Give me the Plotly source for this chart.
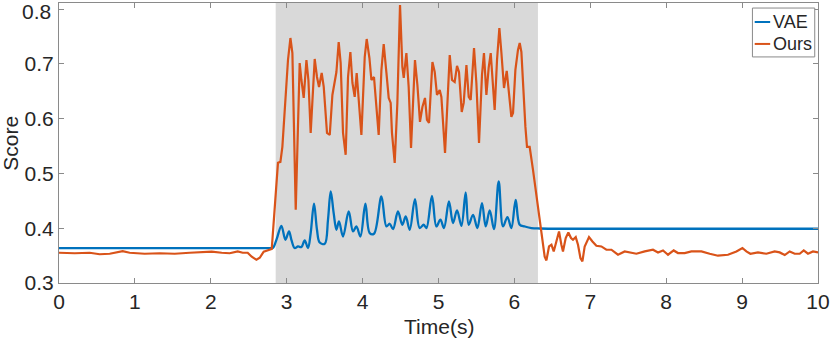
import plotly.graph_objects as go

# ---- data ----
shade_start = 2.855
shade_end = 6.31

vae_t = [0.0, 1.0, 2.0, 2.802, 2.820, 2.872, 2.930, 2.983, 3.030, 3.062, 3.105, 3.149, 3.194,
         3.237, 3.281, 3.316, 3.360, 3.399, 3.435, 3.501, 3.544, 3.580, 3.619, 3.655, 3.689,
         3.742, 3.817, 3.874, 3.918, 3.971, 4.037, 4.094, 4.150, 4.248, 4.314, 4.357, 4.401,
         4.466, 4.524, 4.568, 4.621, 4.690, 4.752, 4.805, 4.841, 4.914, 4.972, 5.025, 5.072,
         5.138, 5.191, 5.244, 5.302, 5.358, 5.398, 5.455, 5.512, 5.573, 5.622, 5.675, 5.731,
         5.793, 5.850, 5.908, 5.960, 6.017, 6.070, 6.136, 6.224, 6.333, 7.0, 8.0, 9.0, 10.0]
vae_v = [0.3638, 0.3638, 0.3638, 0.3638, 0.3640, 0.3820, 0.4044, 0.3789, 0.3941, 0.3789, 0.3638,
         0.3667, 0.3656, 0.3777, 0.3638, 0.3911, 0.4446, 0.3972, 0.3740, 0.3716, 0.4154, 0.4670,
         0.4276, 0.3972, 0.4123, 0.3849, 0.4305, 0.3941, 0.4032, 0.3849, 0.4446, 0.3911, 0.3899,
         0.4579, 0.4032, 0.4081, 0.3984, 0.4305, 0.4063, 0.4214, 0.3972, 0.4531, 0.4003, 0.4063,
         0.4003, 0.4591, 0.4032, 0.4154, 0.4003, 0.4487, 0.4094, 0.4323, 0.4044, 0.4652, 0.4063,
         0.4245, 0.4003, 0.4458, 0.4032, 0.4323, 0.3984, 0.4852, 0.4032, 0.4203, 0.4003, 0.4518,
         0.4063, 0.4032, 0.4003, 0.3995, 0.3990, 0.3990, 0.3990, 0.3990]

ours_t = [0.0, 0.207, 0.404, 0.536, 0.668, 0.839, 0.931, 1.129, 1.327, 1.524, 1.722, 1.920,
          2.012, 2.144, 2.249, 2.355, 2.420, 2.486, 2.539, 2.601, 2.645, 2.697, 2.750, 2.803,
          2.885, 2.917, 2.943, 2.974, 3.017, 3.049, 3.075, 3.119, 3.171, 3.194, 3.224, 3.260,
          3.286, 3.316, 3.369, 3.399, 3.426, 3.461, 3.488, 3.531, 3.567, 3.602, 3.655, 3.685,
          3.711, 3.742, 3.777, 3.808, 3.839, 3.866, 3.896, 3.922, 3.948, 3.984, 4.028, 4.054,
          4.090, 4.116, 4.150, 4.182, 4.212, 4.248, 4.278, 4.314, 4.344, 4.370, 4.387, 4.423,
          4.458, 4.493, 4.524, 4.542, 4.577, 4.607, 4.638, 4.690, 4.722, 4.756, 4.788, 4.822,
          4.848, 4.875, 4.920, 4.950, 4.980, 5.016, 5.038, 5.086, 5.148, 5.178, 5.213, 5.244,
          5.270, 5.306, 5.332, 5.368, 5.398, 5.424, 5.468, 5.499, 5.534, 5.573, 5.599, 5.631,
          5.661, 5.688, 5.714, 5.740, 5.771, 5.802, 5.829, 5.863, 5.899, 5.925, 5.960, 5.982,
          6.013, 6.047, 6.070, 6.092, 6.113, 6.145, 6.166, 6.201, 6.245, 6.277, 6.320, 6.364,
          6.399, 6.422, 6.456, 6.488, 6.518, 6.553, 6.588, 6.619, 6.640, 6.676, 6.711, 6.746,
          6.772, 6.808, 6.838, 6.870, 6.896, 6.926, 6.983, 7.028, 7.080, 7.146, 7.212, 7.278,
          7.365, 7.453, 7.519, 7.607, 7.717, 7.826, 7.892, 7.958, 8.024, 8.099, 8.155, 8.244,
          8.332, 8.464, 8.573, 8.682, 8.814, 8.925, 9.004, 9.056, 9.109, 9.209, 9.320, 9.429,
          9.495, 9.561, 9.627, 9.693, 9.759, 9.812, 9.868, 9.934, 10.0]
ours_v = [0.3552, 0.3543, 0.3552, 0.3525, 0.3534, 0.3580, 0.3552, 0.3534, 0.3543, 0.3534,
          0.3552, 0.3561, 0.3571, 0.3552, 0.3543, 0.3576, 0.3552, 0.3552, 0.3479, 0.3425,
          0.3461, 0.3571, 0.3594, 0.3620, 0.5193, 0.5211, 0.5485, 0.6104, 0.7070, 0.7471,
          0.7197, 0.4336, 0.7015, 0.6705, 0.6377, 0.7070, 0.6705, 0.5740, 0.7088, 0.6760,
          0.6578, 0.6833, 0.6578, 0.5740, 0.5703, 0.6432, 0.6851, 0.7398, 0.7015, 0.5740,
          0.5339, 0.6760, 0.7216, 0.6651, 0.6396, 0.6833, 0.6341, 0.5703, 0.7125, 0.7453,
          0.7106, 0.6705, 0.6760, 0.6158, 0.5703, 0.6888, 0.7362, 0.6833, 0.6377, 0.6286,
          0.5740, 0.5193, 0.6286, 0.8073, 0.6945, 0.6744, 0.7197, 0.6578, 0.5466, 0.7070,
          0.6614, 0.5940, 0.6213, 0.6377, 0.5976, 0.5922, 0.7034, 0.6851, 0.6432, 0.6523,
          0.6396, 0.5375, 0.7161, 0.6705, 0.6669, 0.6961, 0.6851, 0.6122, 0.6286, 0.6979,
          0.6396, 0.6341, 0.7289, 0.6651, 0.5558, 0.6797, 0.7197, 0.6432, 0.6925, 0.7197,
          0.6651, 0.6158, 0.7070, 0.7654, 0.7197, 0.6559, 0.6870, 0.6469, 0.6031, 0.6104,
          0.6888, 0.7253, 0.7380, 0.7216, 0.6578, 0.5849, 0.5485, 0.5485, 0.5066, 0.4737,
          0.4282, 0.3917, 0.3480, 0.3412, 0.3667, 0.3698, 0.3576, 0.3758, 0.3941, 0.3698,
          0.3576, 0.3820, 0.3922, 0.3820, 0.3789, 0.3838, 0.3698, 0.3456, 0.3394, 0.3667,
          0.3838, 0.3758, 0.3680, 0.3667, 0.3607, 0.3607, 0.3516, 0.3576, 0.3558, 0.3534,
          0.3576, 0.3607, 0.3558, 0.3594, 0.3516, 0.3594, 0.3547, 0.3547, 0.3576, 0.3576,
          0.3534, 0.3498, 0.3516, 0.3576, 0.3638, 0.3576, 0.3534, 0.3558, 0.3534, 0.3576,
          0.3558, 0.3510, 0.3576, 0.3534, 0.3534, 0.3594, 0.3534, 0.3576, 0.3558]

x_ticks = [0, 1, 2, 3, 4, 5, 6, 7, 8, 9, 10]
y_ticks = [0.3, 0.4, 0.5, 0.6, 0.7, 0.8]
y_tick_labels = ["0.3", "0.4", "0.5", "0.6", "0.7", "0.8"]
series_names = ["VAE", "Ours"]
series_colors = ["#0072BD", "#D95319"]

FONT = "Liberation Sans, Arial, Helvetica, sans-serif"
AX = "#8a8a8a"
TXT = "#262626"

fig = go.Figure()
fig.add_trace(go.Scatter(x=vae_t, y=vae_v, mode="lines", name=series_names[0], showlegend=False,
                         line=dict(color=series_colors[0], width=2.3, shape="spline", smoothing=1.0)))
fig.add_trace(go.Scatter(x=ours_t, y=ours_v, mode="lines", name=series_names[1], showlegend=False,
                         line=dict(color=series_colors[1], width=2.2)))

fig.add_shape(type="rect", xref="x", yref="paper", x0=shade_start, x1=shade_end, y0=0, y1=1,
              fillcolor="#d9d9d9", line=dict(width=0), layer="below")

# manual legend (MATLAB-style compact box)
fig.add_shape(type="rect", xref="paper", yref="paper", x0=0.9136, x1=0.9957, y0=0.8074, y1=0.982,
              fillcolor="white", line=dict(color=AX, width=1), layer="above")
leg_y = [0.9322, 0.8538]
for name, col, ly in zip(series_names, series_colors, leg_y):
    fig.add_shape(type="line", xref="paper", yref="paper", x0=0.9166, x1=0.9370, y0=ly, y1=ly,
                  line=dict(color=col, width=2), layer="above")
    fig.add_annotation(xref="paper", yref="paper", x=0.9380, y=ly, xanchor="left", yanchor="middle",
                       text=name, showarrow=False, font=dict(family=FONT, size=18, color=TXT))

axis_common = dict(showline=True, linecolor=AX, linewidth=1, mirror="ticks",
                   ticks="inside", ticklen=5, tickcolor=AX, showgrid=False, zeroline=False,
                   automargin=False, ticklabeloverflow="allow",
                   tickfont=dict(family=FONT, size=21, color=TXT))

# top y label is drawn as an annotation (slightly lower, like MATLAB) so it is not clipped
axis_labels_shown = y_tick_labels[:-1] + [""]

fig.update_layout(
    width=830, height=342,
    margin=dict(l=59, r=12, t=3, b=59),
    paper_bgcolor="white", plot_bgcolor="white",
    font=dict(family=FONT, color=TXT),
    xaxis=dict(range=[0, 10], tickvals=x_ticks, **axis_common),
    yaxis=dict(range=[0.3, 0.811], tickvals=y_ticks, ticktext=axis_labels_shown, **axis_common),
    showlegend=False,
)

fig.add_annotation(xref="paper", yref="y", x=-0.0075, y=y_ticks[-1], yshift=-2.5,
                   xanchor="right", yanchor="middle", text=y_tick_labels[-1], showarrow=False,
                   font=dict(family=FONT, size=21, color=TXT))
fig.add_annotation(xref="paper", yref="paper", x=0.5, y=-0.156, xanchor="center", yanchor="middle",
                   text="Time(s)", showarrow=False, font=dict(family=FONT, size=21, color=TXT))
fig.add_annotation(xref="paper", yref="paper", x=-0.065, y=0.5, xanchor="center", yanchor="middle",
                   text="Score", textangle=-90, showarrow=False,
                   font=dict(family=FONT, size=21, color=TXT))

fig.write_html("out.html",
               config={"displayModeBar": False},
               post_script="document.body.style.margin='0';document.body.style.padding='0';"
                           "document.body.style.overflow='hidden';")
